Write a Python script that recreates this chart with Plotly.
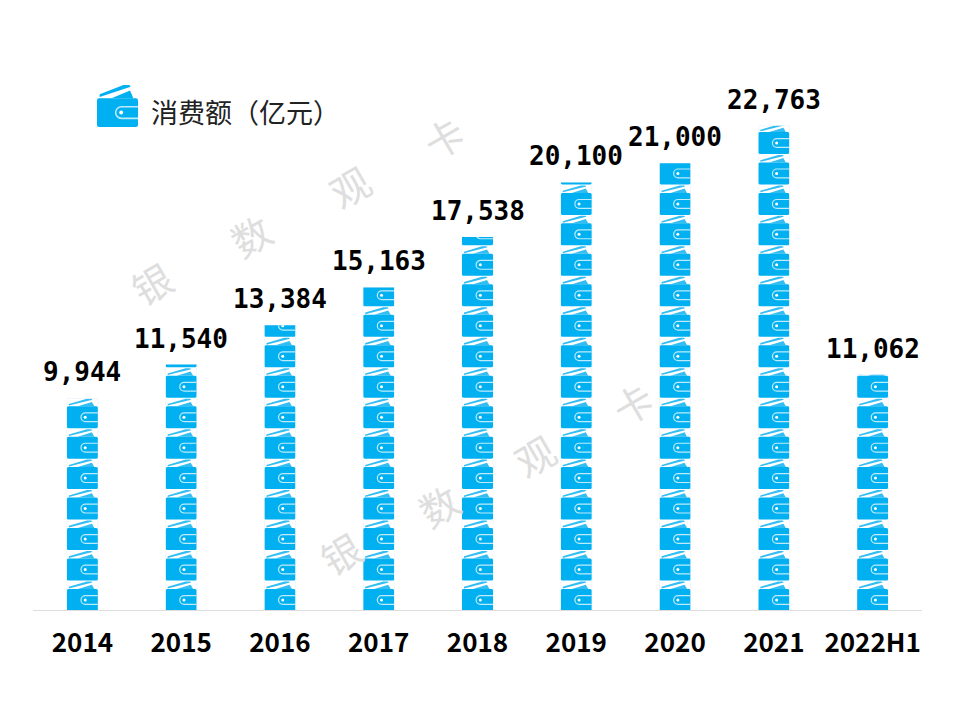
import base64
import plotly.graph_objects as go

# 数据
years = ['2014', '2015', '2016', '2017', '2018', '2019', '2020', '2021', '2022H1']
amounts = [9944, 11540, 13384, 15163, 17538, 20100, 21000, 22763, 11062]
legend_label = '消费额（亿元）'
watermark_chars = ['银', '数', '观', '卡']

BLUE = '#00B0F0'
FLAP = '#33BEF3'
PX_PER_UNIT = 0.02127
ICON_H = 30.47
BODY_H = 22
ICON_W = 31
ICON_VALUE = ICON_H / PX_PER_UNIT

W, H = 960, 720
M_L, M_R, M_T, M_B = 33, 38, 40, 110
PLOT_H = H - M_T - M_B


def wallet(b, flap_h=7.5, flap_color=FLAP):
    # 一个钱包图标, b 是机身顶部
    y0 = b - flap_h
    s = flap_h / 7.5
    return (
        f'<path d="M2 {b - 2.2 * s:.2f} L20 {y0:.2f} L24.5 {y0:.2f} L25.5 {y0 + 1.0 * s:.2f} L2 {b - 0.6 * s:.2f} Z" fill="{flap_color}"/>'
        f'<path d="M11 {b:.2f} L25 {y0 + 3.2 * s:.2f} L27.5 {b:.2f} Z" fill="{flap_color}"/>'
        f'<rect x="0" y="{b:.2f}" width="31" height="{BODY_H}" rx="1.6" fill="{BLUE}"/>'
        f'<path d="M31 {b + 6.6:.2f} H18.5 a4.4 4.4 0 0 0 0 8.8 H31" fill="none" stroke="#BDEBFC" stroke-width="1.2"/>'
        f'<circle cx="18.3" cy="{b + 11:.2f}" r="1.5" fill="#FFFFFF"/>'
    )


def data_uri(svg):
    return 'data:image/svg+xml;base64,' + base64.b64encode(svg.encode('utf-8')).decode()


# 一根柱子: 图标从底部向上重复, 到数值处截断
def stack_image(value):
    height = value * PX_PER_UNIT
    n = int(value / ICON_VALUE) + 2
    parts = []
    for k in range(n):
        # 最底下的图标比基线低一点点
        b = height + 1.0 - BODY_H - k * ICON_H
        parts.append(wallet(b))
    svg = (
        f'<svg xmlns="http://www.w3.org/2000/svg" width="{ICON_W}" height="{height:.2f}" '
        f'viewBox="0 0 {ICON_W} {height:.2f}" preserveAspectRatio="none">' + ''.join(parts) + '</svg>'
    )
    return data_uri(svg)


legend_svg = (
    '<svg xmlns="http://www.w3.org/2000/svg" width="41" height="42" viewBox="0 0 31 32" '
    'preserveAspectRatio="none">' + wallet(10, 10, BLUE) + '</svg>'
)

fig = go.Figure()
fig.add_trace(go.Bar(
    x=list(range(len(years))),
    y=amounts,
    width=0.314,
    marker=dict(color='rgba(0,0,0,0)'),
    hoverinfo='skip',
    showlegend=False,
))

images = []
for i, v in enumerate(amounts):
    images.append(dict(
        source=stack_image(v), xref='x', yref='y', x=i, y=0,
        sizex=0.314, sizey=v, xanchor='center', yanchor='bottom',
        sizing='stretch', layer='above',
    ))
images.append(dict(
    source=data_uri(legend_svg), xref='paper', yref='paper',
    x=(97 - M_L) / (W - M_L - M_R), y=1 - (85 - M_T) / PLOT_H,
    sizex=41 / (W - M_L - M_R), sizey=42 / PLOT_H,
    xanchor='left', yanchor='top', sizing='stretch', layer='above',
))

annotations = []
# 数值标签
for i, v in enumerate(amounts):
    annotations.append(dict(
        x=i, y=v, xref='x', yref='y', text=f'{v:,}', showarrow=False,
        yanchor='middle', yshift=26,
        font=dict(family='DejaVu Sans Mono', size=26, color='#000000', weight=700),
    ))

# 图例文字
annotations.append(dict(
    x=(149 - M_L) / (W - M_L - M_R), y=1 - (112 - M_T) / PLOT_H,
    xref='paper', yref='paper', text=legend_label, showarrow=False,
    xanchor='left', yanchor='middle',
    font=dict(family='Noto Sans CJK SC', size=27, color='#222222'),
))

# 水印
for cx, cy in [((151, 250, 349, 443), (283, 235, 186, 137)),
               ((340, 438, 534, 632), (553, 505, 455, 403))]:
    for ch, px, py in zip(watermark_chars, cx, cy):
        annotations.append(dict(
            x=(px - M_L) / (W - M_L - M_R), y=1 - (py - M_T) / PLOT_H,
            xref='paper', yref='paper', text=ch, showarrow=False, textangle=-30,
            xanchor='center', yanchor='middle',
            font=dict(family='Noto Sans CJK SC', size=39, color='#DEDEDE'),
        ))

fig.update_layout(
    width=W, height=H,
    margin=dict(l=M_L, r=M_R, t=M_T, b=M_B, pad=0),
    paper_bgcolor='white', plot_bgcolor='white',
    images=images, annotations=annotations,
    showlegend=False,
    xaxis=dict(
        range=[-0.5, 8.5], tickmode='array',
        tickvals=list(range(len(years))), ticktext=years,
        showgrid=False, zeroline=False, showline=True, linecolor='#DDDDDD', linewidth=1,
        ticks='', ticklabelstandoff=10,
        tickfont=dict(family='Noto Sans CJK SC', size=26, color='#000000', weight=700),
    ),
    yaxis=dict(range=[0, PLOT_H / PX_PER_UNIT], visible=False, showgrid=False, zeroline=False),
)

# 去掉页面默认的 8px 边距, 不显示工具栏
fig.write_html('out.html', config={'displayModeBar': False},
               post_script="document.body.style.margin='0';")
